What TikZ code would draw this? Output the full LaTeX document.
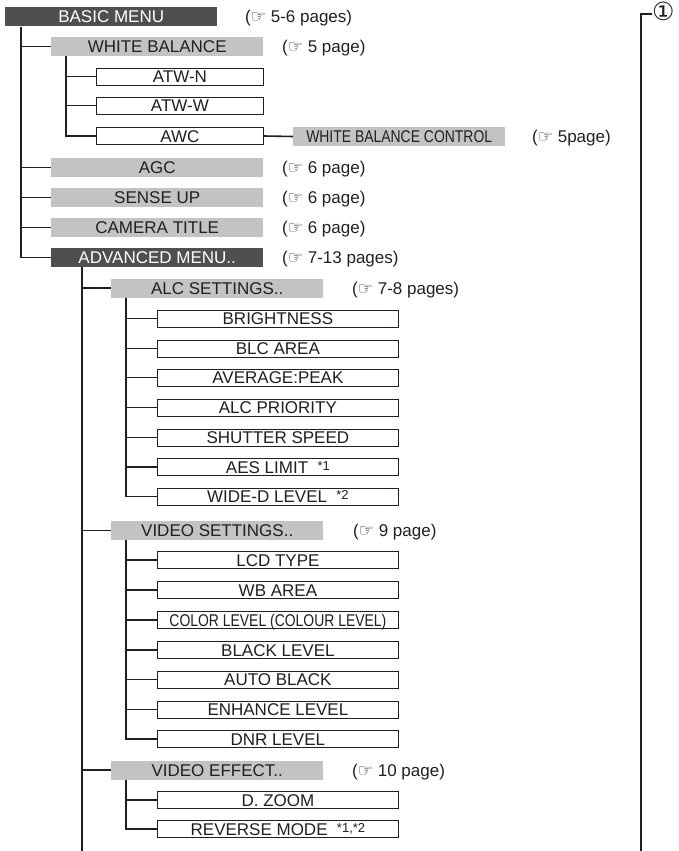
\documentclass[tikz,border=0pt]{standalone}
\usepackage{fontspec}
\setmainfont{Liberation Sans}
\newfontfamily\djv{DejaVu Sans}
\definecolor{darkbar}{HTML}{4F4F4F}
\definecolor{lightbar}{HTML}{C3C3C5}
\definecolor{ink}{HTML}{231F20}
\newcommand{\hand}{{\djv\fontsize{17}{17}\selectfont ☞}}
\newcommand{\starnote}[1]{\hspace{0.55em}\raisebox{3pt}{\fontsize{13}{13}\selectfont #1}}
\newcommand{\squeeze}[1]{\scalebox{0.82}[1]{#1}}
\begin{document}
\begin{tikzpicture}[x=1pt,y=-1pt,
  every node/.style={font=\fontsize{17}{17}\selectfont, text=ink, inner sep=0pt, text height=12pt, text depth=0pt},
  darkbox/.style={fill=darkbar, text=white, minimum width=212pt, minimum height=19pt, anchor=west},
  greybox/.style={fill=lightbar, minimum width=212pt, minimum height=19pt, anchor=west},
  itembox/.style={draw=ink, line width=0.8pt, fill=white, minimum height=17pt, anchor=west},
  smallitem/.style={itembox, minimum width=167pt},
  wideitem/.style={itembox, minimum width=241pt},
  ref/.style={anchor=west},
  branch/.style={draw=ink, line width=1.6pt},
]
\useasboundingbox (0,0) rectangle (678,851);

% level 0
\node[darkbox] (basic) at (5,17) {BASIC MENU};
\node[ref] (rbasic) at (245,17) {(\hand{} 5-6 pages)};

% level 1
\node[greybox] (wb) at (51,46.5) {WHITE BALANCE};
\node[ref] (rwb) at (282,46.5) {(\hand{} 5 page)};
\node[smallitem] (atwn) at (96,76.5) {ATW-N};
\node[smallitem] (atww) at (96,105.5) {ATW-W};
\node[smallitem] (awc) at (96,136) {AWC};
\node[greybox] (wbc) at (293,136.5) {\squeeze{WHITE BALANCE CONTROL}};
\node[ref] (rwbc) at (532,136.5) {(\hand{} 5page)};

\node[greybox] (agc) at (51,167.5) {AGC};
\node[ref] (ragc) at (282,167.5) {(\hand{} 6 page)};
\node[greybox] (sense) at (51,197.5) {SENSE UP};
\node[ref] (rsense) at (282,197.5) {(\hand{} 6 page)};
\node[greybox] (title) at (51,227.5) {CAMERA TITLE};
\node[ref] (rtitle) at (282,227.5) {(\hand{} 6 page)};
\node[darkbox] (adv) at (51,257.5) {ADVANCED MENU..};
\node[ref] (radv) at (282,257.5) {(\hand{} 7-13 pages)};

% ALC settings
\node[greybox] (alc) at (111,288) {ALC SETTINGS..};
\node[ref] (ralc) at (352,288) {(\hand{} 7-8 pages)};
\node[wideitem] (bright) at (157,318.5) {BRIGHTNESS};
\node[wideitem] (blc) at (157,348.5) {BLC AREA};
\node[wideitem] (avg) at (157,377.5) {AVERAGE:PEAK};
\node[wideitem] (prio) at (157,407.5) {ALC PRIORITY};
\node[wideitem] (shut) at (157,437.5) {SHUTTER SPEED};
\node[wideitem] (aes) at (157,467) {AES LIMIT\starnote{*1}};
\node[wideitem] (wide) at (157,496.5) {WIDE-D LEVEL\starnote{*2}};

% Video settings
\node[greybox] (vs) at (111,530.5) {VIDEO SETTINGS..};
\node[ref] (rvs) at (353,530.5) {(\hand{} 9 page)};
\node[wideitem] (lcd) at (157,560) {LCD TYPE};
\node[wideitem] (wba) at (157,590) {WB AREA};
\node[wideitem] (col) at (157,620) {\squeeze{COLOR LEVEL (COLOUR LEVEL)}};
\node[wideitem] (black) at (157,650) {BLACK LEVEL};
\node[wideitem] (auto) at (157,679.5) {AUTO BLACK};
\node[wideitem] (enh) at (157,709.5) {ENHANCE LEVEL};
\node[wideitem] (dnr) at (157,739) {DNR LEVEL};

% Video effect
\node[greybox] (ve) at (111,770) {VIDEO EFFECT..};
\node[ref] (rve) at (352,770) {(\hand{} 10 page)};
\node[wideitem] (dz) at (157,800) {D. ZOOM};
\node[wideitem] (rev) at (157,829) {REVERSE MODE\starnote{*1,*2}};

% right marker
\node[anchor=west, font=\djv\fontsize{25}{25}\selectfont, text height=14pt] (circ) at (652,14) {①};
\coordinate (rtop) at (641,14);
\coordinate (rbot) at (641,851);
\coordinate (advend) at (82,851);

% connectors
\foreach \c in {wb,agc,sense,title,adv}
  \draw[branch] ([xshift=16pt]basic.south west) |- (\c.west);
\foreach \c in {atwn,atww,awc}
  \draw[branch] ([xshift=15pt]wb.south west) |- (\c.west);
\draw[branch] (awc.east) -- (wbc.west);
\draw[branch] ([xshift=31pt]adv.south west) -- (advend);
\foreach \c in {alc,vs,ve}
  \draw[branch] ([xshift=31pt]adv.south west) |- (\c.west);
\foreach \c in {bright,blc,avg,prio,shut,aes,wide}
  \draw[branch] ([xshift=15pt]alc.south west) |- (\c.west);
\foreach \c in {lcd,wba,col,black,auto,enh,dnr}
  \draw[branch] ([xshift=15pt]vs.south west) |- (\c.west);
\foreach \c in {dz,rev}
  \draw[branch] ([xshift=15pt]ve.south west) |- (\c.west);
\draw[branch] (circ.west) -- (rtop) -- (rbot);
\end{tikzpicture}
\end{document}
